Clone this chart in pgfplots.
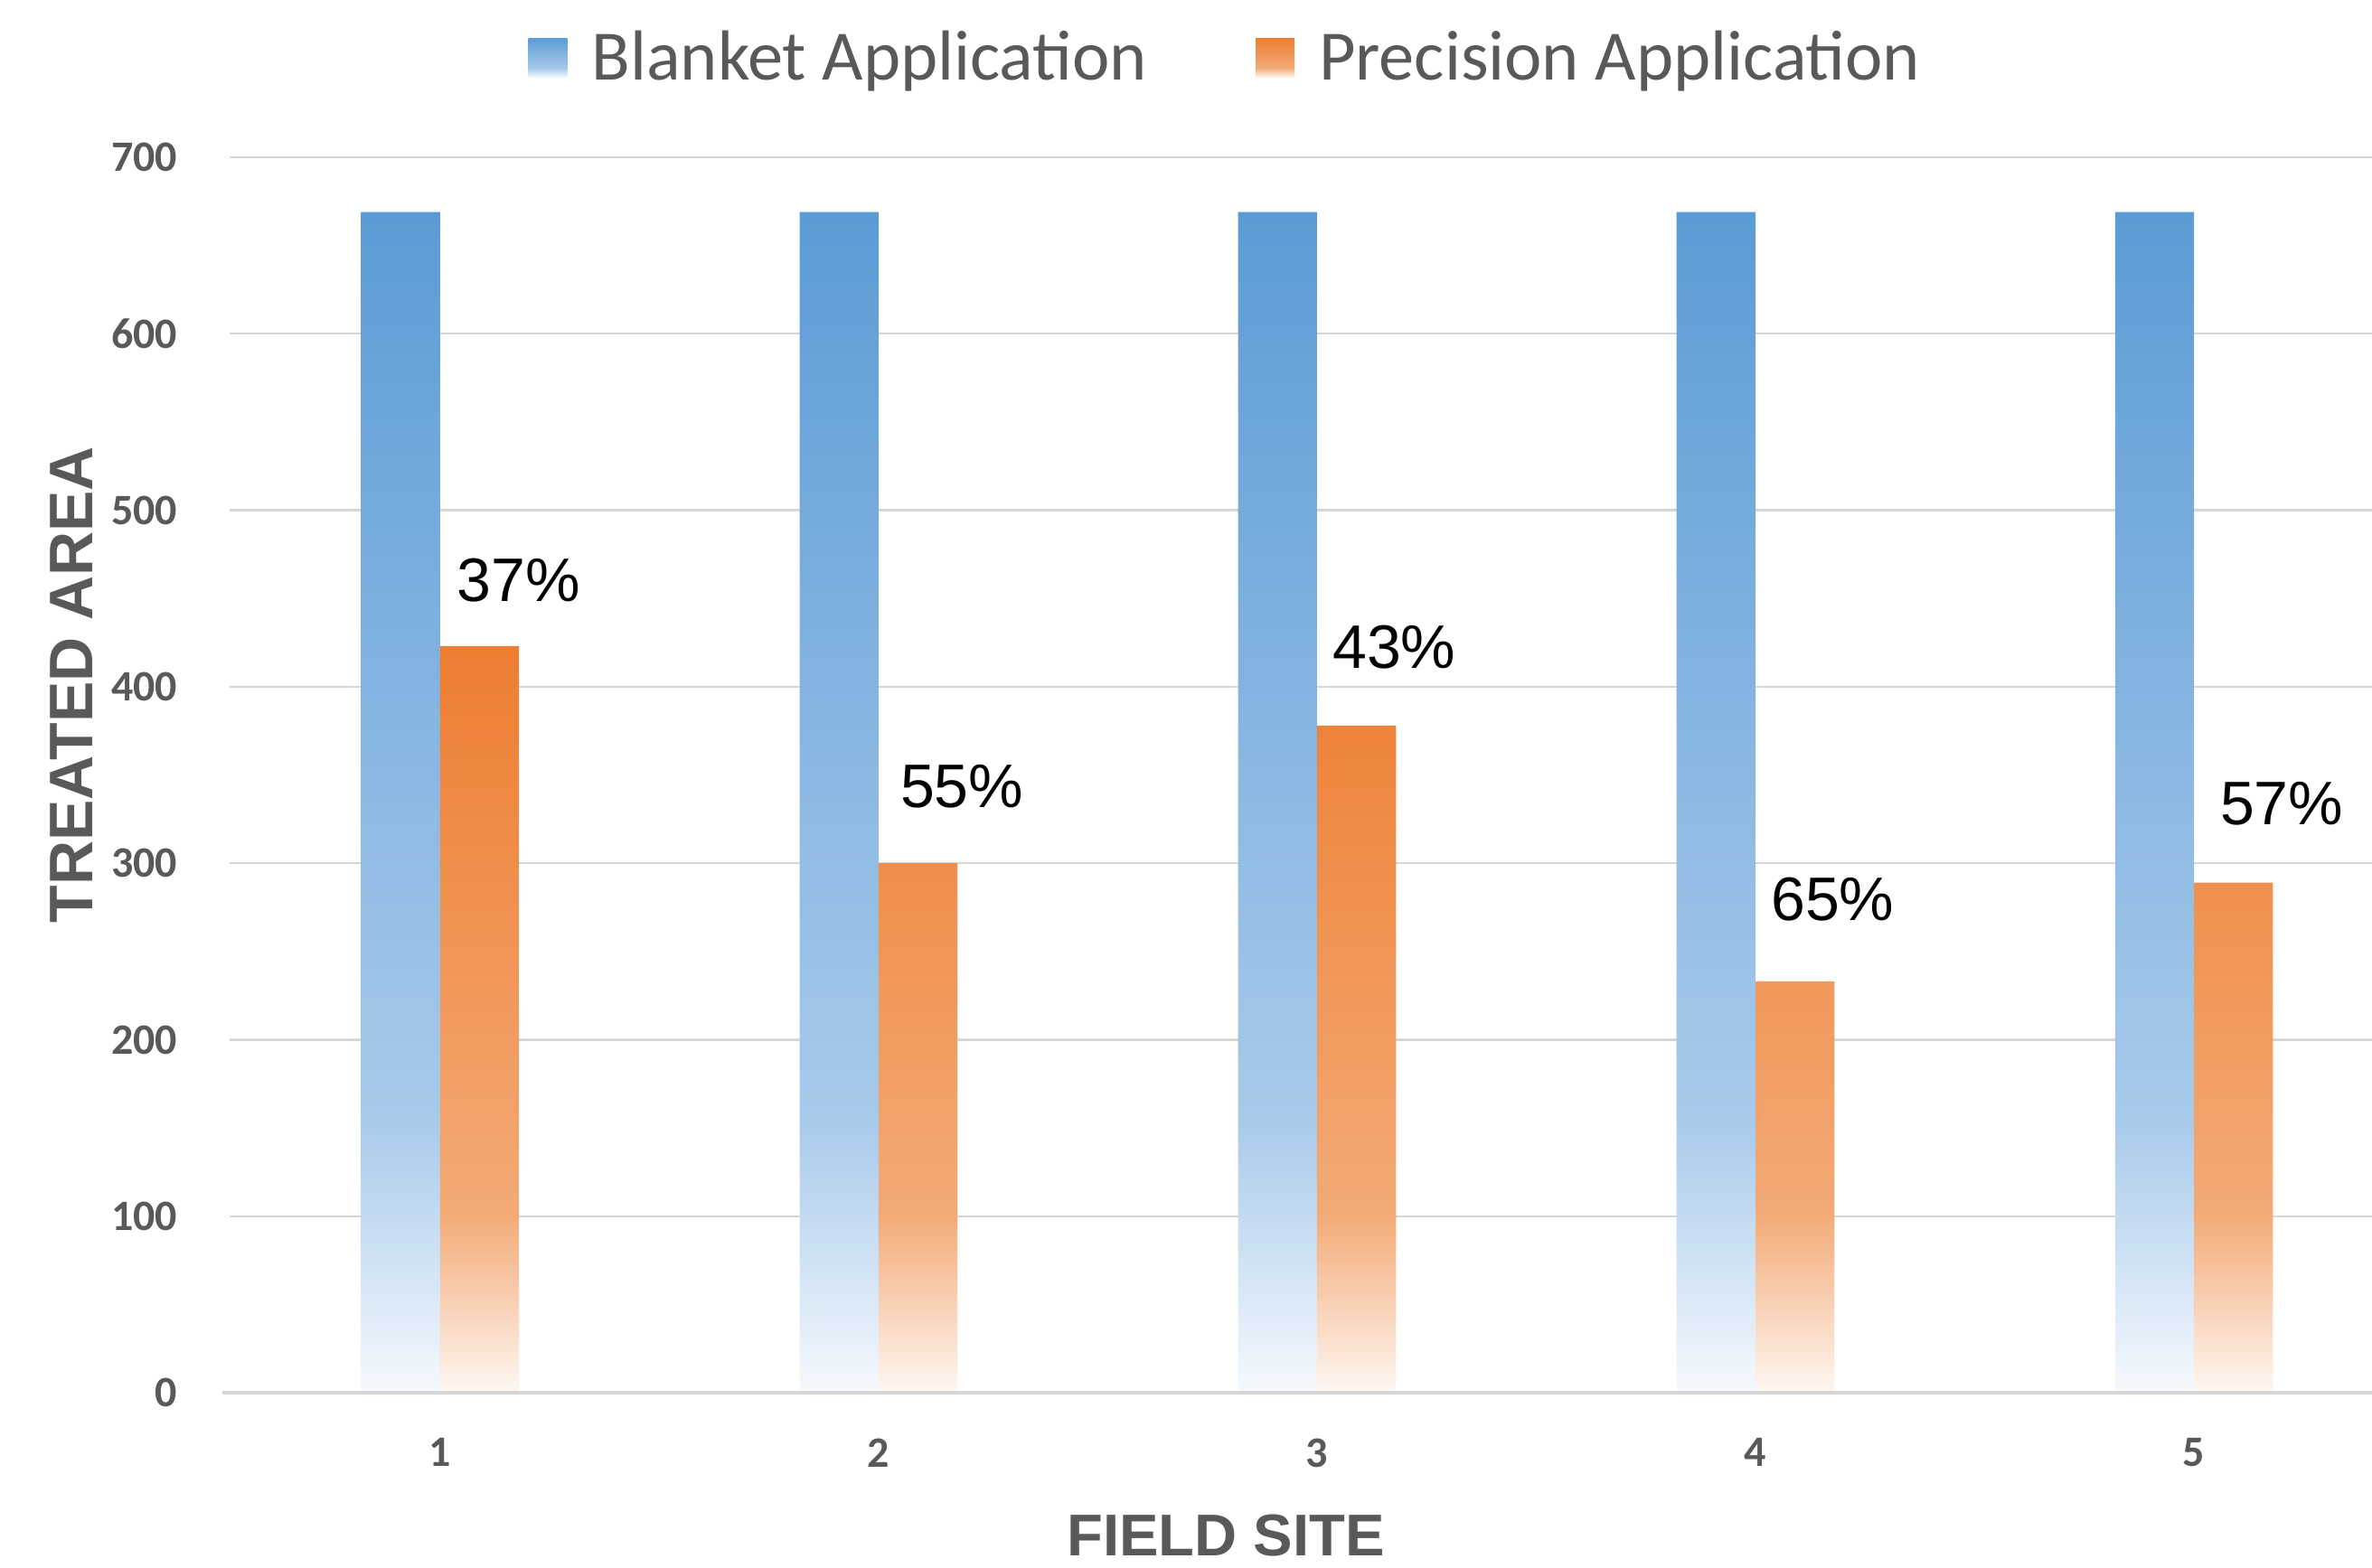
\documentclass[border=0pt]{standalone}
\usepackage{fontspec}
\setmainfont{Carlito}
\newfontfamily\arialfont{Liberation Sans}
\usepackage{pgfplots}
\usepackage{pgfplotstable}
\pgfplotsset{compat=1.18}
\definecolor{txtgray}{RGB}{89,89,89}
\definecolor{gridgray}{RGB}{214,214,214}
\definecolor{bTop}{RGB}{91,155,213}
\definecolor{bMid}{RGB}{168,202,235}
\definecolor{bBot}{RGB}{245,249,253}
\definecolor{oTop}{RGB}{237,125,49}
\definecolor{oMid}{RGB}{243,170,118}
\definecolor{oBot}{RGB}{254,247,242}
\pgfdeclareverticalshading{blueshade}{100bp}{color(0bp)=(bBot); color(25bp)=(bBot); color(36.5bp)=(bMid); color(75bp)=(bTop); color(100bp)=(bTop)}
\pgfdeclareverticalshading{orangeshade}{100bp}{color(0bp)=(oBot); color(25bp)=(oBot); color(37bp)=(oMid); color(75bp)=(oTop); color(100bp)=(oTop)}

\pgfplotstableread{
site blanket precision
1 669 423
2 669 300
3 669 378
4 669 233
5 669 289
}\datatable

\begin{document}
\begin{tikzpicture}
\begin{axis}[
  scale only axis,
  width=592.5pt, height=341.75pt,
  xmin=0.52, xmax=5.406,
  ymin=0, ymax=700,
  xtick={1,2,3,4,5},
  ytick={0,100,...,700},
  axis line style={draw=none},
  major tick length=0pt,
  ymajorgrids,
  grid style={draw=gridgray, line width=0.6pt},
  /pgf/number format/assume math mode=true,
  tick label style={font=\bfseries\fontsize{12}{12}\selectfont, text=txtgray},
  yticklabel style={anchor=east, inner sep=0pt, xshift=-14.25pt},
  xticklabel style={anchor=north, inner sep=0pt, yshift=-12.5pt},
  xlabel={FIELD SITE},
  ylabel={TREATED AREA},
  every axis x label/.style={at={(axis description cs:0.465,-0.1156)}, anchor=center,
     font=\arialfont\bfseries\fontsize{16.3}{16.3}\selectfont, text=txtgray},
  every axis y label/.style={at={(axis description cs:-0.0738,0.573)}, anchor=center, rotate=90,
     font=\arialfont\bfseries\fontsize{17}{17}\selectfont, text=txtgray},
  legend style={at={(axis description cs:0.466,1.0805)}, anchor=center, draw=none, fill=none,
     font=\fontsize{19.6}{19.6}\selectfont, text=txtgray,
     /tikz/every even column/.append style={column sep=28pt}},
  legend columns=2,
  clip=false,
]
\addplot[ybar, bar width=0.18, bar shift=-0.09, draw=none, shade, shading=blueshade,
  legend image code/.code={\shade[shading=blueshade] (0pt,-5.4pt) rectangle (10.75pt,5.4pt);
     \path (10.75pt,0pt) -- (15.5pt,0pt);}]
  table[x=site, y=blanket]{\datatable};
\addlegendentry{Blanket Application}
\addplot[ybar, bar width=0.18, bar shift=0.09, draw=none, shade, shading=orangeshade,
  legend image code/.code={\shade[shading=orangeshade] (0pt,-5.4pt) rectangle (10.75pt,5.4pt);
     \path (10.75pt,0pt) -- (15.5pt,0pt);}]
  table[x=site, y=precision]{\datatable};
\addlegendentry{Precision Application}
\draw[gridgray, line width=0.8pt] ([xshift=-2pt]rel axis cs:0,0) -- (rel axis cs:1,0);
\begin{scope}[every node/.style={font=\arialfont\fontsize{17}{17}\selectfont, text=black, anchor=center, inner sep=0pt}]
\node at (axis cs:1.179,460.2) {37\%};
\node at (axis cs:2.190,343.6) {55\%};
\node at (axis cs:3.176,422.4) {43\%};
\node at (axis cs:4.176,279.3) {65\%};
\node at (axis cs:5.200,333.9) {57\%};
\end{scope}
\end{axis}
\pgfresetboundingbox
\path (-63.5pt,-48.5pt) rectangle (592.5pt,385.25pt);
\end{tikzpicture}
\end{document}
